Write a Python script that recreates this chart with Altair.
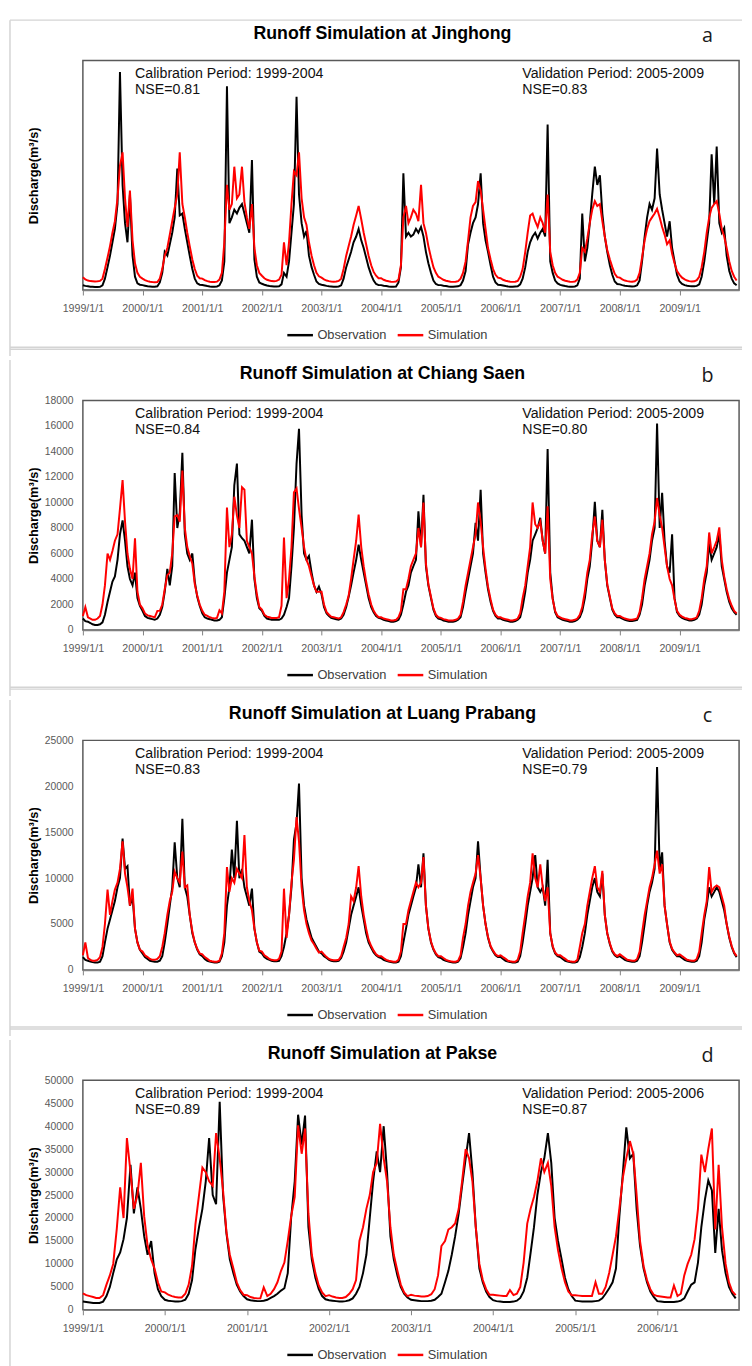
import altair as alt
import pandas as pd

YEARS_ABC = list(range(1999, 2010))
YEARS_D = list(range(1999, 2007))
SERIES = ["Observation", "Simulation"]
COLORS = ["#000000", "#ff0000"]

# semi-monthly readings (1st and 16th of each month), one year per line
OBS_A = [
    250,220,200,180,170,160,160,170,250,600,1200,1800,2500,3200,4500,11400,5500,3500,2500,5000,1800,700,350,280,
    260,230,200,190,180,180,200,400,900,2000,1800,2400,3000,3800,6350,3900,4000,3200,2500,1800,1100,600,350,280,
    270,240,210,190,180,180,190,250,500,1500,10650,3500,3800,4200,4000,4300,4500,4000,3500,3000,6800,1600,700,400,
    330,280,240,210,200,190,190,200,300,900,700,1500,3000,4500,10100,5000,3500,2800,3100,1800,1200,800,450,320,
    280,250,220,200,190,180,180,190,250,600,1200,1600,2000,2500,2800,3200,2600,2200,1700,1200,800,500,320,260,
    260,230,210,190,180,180,190,400,1200,6100,2800,3000,2800,2900,3200,3000,3300,2800,2000,1400,900,500,320,260,
    260,230,210,190,180,180,190,200,260,500,1000,2400,3000,3500,3800,4500,6100,3500,2600,2000,1300,700,400,280,
    270,240,210,190,180,180,190,200,300,600,1200,2000,2500,2800,3000,2700,3000,3200,2800,8650,1500,900,500,350,
    270,240,210,190,180,180,190,250,600,4000,1500,2200,3500,5000,6450,5500,6000,4000,2800,2000,1300,800,450,320,
    300,260,230,210,200,190,200,250,500,1500,2800,3800,4500,4200,4800,7400,5000,4200,3500,2800,3600,2200,1500,800,
    450,320,260,230,210,200,200,220,300,700,1500,2500,3500,7100,4500,7500,3500,3000,3250,1800,1000,600,350,250,
]
SIM_A = [
    670,560,500,470,460,450,460,480,600,1100,1700,2300,3000,3600,4800,6500,7200,4800,3300,5200,2600,1400,900,700,
    600,520,470,440,420,410,420,600,1100,1800,2200,2900,3600,4300,5000,7200,4500,3800,3000,2300,1600,1100,750,620,
    600,520,470,440,420,420,440,550,900,2500,5500,4200,4500,6450,4800,5000,6450,4600,3800,3200,4500,2200,1300,900,
    750,620,540,500,470,460,480,550,800,2500,1300,2500,4500,6200,6000,7200,4800,3800,3400,2500,1800,1300,900,720,
    650,560,500,470,450,440,450,480,600,1100,1800,2300,2800,3400,3900,4400,3700,3000,2400,1800,1300,950,750,620,
    620,540,490,460,440,430,450,550,1300,3800,4400,3500,3800,4200,4000,3600,5500,3500,3000,2300,1700,1200,900,700,
    620,540,490,460,440,430,440,470,600,900,1500,2600,3800,4400,4600,5700,5200,4200,3200,2200,1600,1100,800,650,
    620,540,490,460,440,430,440,480,700,1100,2000,3000,3900,4000,3600,3300,3800,3500,3000,5000,2000,1300,900,700,
    620,540,490,460,440,430,450,550,900,2200,2000,2700,3500,4200,4650,4400,4500,3600,2800,2100,1600,1200,850,680,
    650,560,500,470,450,440,460,550,900,1700,2600,3200,3600,3800,4000,4250,3800,3300,2900,2400,2600,1900,1400,1000,
    800,650,560,500,470,450,460,520,700,1200,2000,3000,3800,4300,4500,4650,4000,3200,2800,2200,1500,1000,700,500,
]
OBS_B = [
    900,700,650,550,450,400,400,450,600,1200,2200,3000,3800,4200,5500,7500,8600,7000,5000,4000,3500,4500,2500,1900,
    1500,1100,950,900,850,800,900,1200,1800,3000,4800,3500,5000,12300,8000,9200,13900,7500,6000,5500,6000,3800,2600,1900,
    1300,1000,900,850,800,750,750,800,1000,2500,4500,5500,6500,11350,13050,7500,7200,7000,6500,6000,8650,4000,2500,1700,
    1500,1100,900,850,800,800,800,800,900,1200,1800,2500,5000,8000,13050,15770,9000,6000,5500,5800,4500,3500,3000,3400,
    2800,1800,1300,1100,950,900,850,800,900,1200,1800,2600,3500,4500,5500,6700,5500,4500,3500,2500,1800,1400,1100,950,
    900,800,750,700,650,650,700,800,1200,2000,3000,3500,4500,5000,5500,9300,6500,10600,5000,3500,2500,1600,1100,900,
    850,750,700,650,650,650,700,800,1000,1800,3000,4000,5000,6000,8400,7000,11000,6000,4500,3200,2200,1500,1100,900,
    900,800,750,700,650,650,700,800,1000,1800,3000,4500,5500,7000,7500,8000,8800,7000,6000,14200,4500,2500,1400,1000,
    900,800,750,700,650,650,700,800,1000,1500,2500,4000,5000,7000,10050,7000,6500,9430,5500,3500,2500,1600,1200,1000,
    1000,900,800,750,700,700,750,800,1200,2000,3500,4500,5500,7000,8000,16200,8000,10750,7000,5000,4500,7500,2500,1400,
    1100,950,850,800,750,750,800,900,1200,2000,3500,4500,6800,5500,6000,6500,7500,5000,4000,3000,2200,1700,1400,1200,
]
SIM_B = [
    1100,1800,1000,900,800,800,900,1100,2000,3500,6000,5500,6200,7000,7500,9500,11750,8500,6000,4800,4000,7200,3000,2000,
    1700,1300,1150,1100,1050,1000,1500,1500,2000,3200,4300,4500,6000,8900,9000,8500,12500,8000,6500,5800,5200,3600,2700,2000,
    1500,1200,1100,1000,950,900,950,1550,1300,3000,9600,6500,7500,10450,9000,8000,11200,11000,7000,6500,6000,4200,2800,1800,
    1600,1200,1050,1000,950,950,950,1000,1900,7250,2500,4000,6500,10800,11100,9500,8000,6500,5500,5000,4200,3500,3000,3000,
    3000,2000,1400,1200,1050,1000,950,900,1000,1400,2000,2700,4000,5500,7000,9050,6500,5000,3800,2800,2000,1500,1200,1000,
    1000,900,850,800,750,750,800,1000,1500,3200,3200,4000,5000,5500,6000,8000,6500,10000,5200,3600,2600,1700,1200,1000,
    950,850,800,750,750,750,800,900,1200,2200,3500,4500,5500,6500,7500,10000,8500,6500,4800,3400,2400,1600,1200,1000,
    1000,900,850,800,750,750,800,900,1300,2500,3500,5000,6500,10000,8300,8000,8500,7000,6000,9700,4000,2400,1500,1100,
    1000,900,850,800,750,750,800,900,1200,1800,3000,4500,5500,7500,8900,7000,6500,8650,5500,3600,2600,1700,1300,1100,
    1100,1000,900,850,800,800,850,900,1400,2500,4000,5000,6000,7500,8500,10350,9000,8000,6500,5000,4000,3500,2400,1500,
    1200,1050,950,900,850,850,900,1000,1500,2500,4000,5000,7650,6000,6500,7000,8050,5500,4200,3200,2400,1900,1500,1300,
]
OBS_C = [
    1400,1100,1000,900,850,800,800,900,1500,3000,4500,5500,6500,7500,9000,10000,14300,11000,11300,7000,8000,4500,3000,2200,
    1800,1400,1200,1000,950,900,900,1000,1500,3000,5000,7000,9000,13900,10000,9000,16450,9000,8000,6000,4000,3000,2200,1700,
    1500,1200,1000,900,850,800,800,900,1500,3000,7000,9000,13100,10000,16250,10000,11000,9000,8000,7000,8850,4500,3000,2000,
    1800,1400,1200,1100,1000,950,950,1000,1500,2500,4000,6000,9000,14200,16000,20300,10000,7000,5500,4500,3500,3000,2500,2000,
    1800,1500,1300,1100,1000,950,950,1000,1300,2000,3000,4500,6000,7000,8000,9000,7000,5500,4000,3000,2400,1900,1600,1400,
    1300,1100,1000,900,850,800,800,900,1500,3000,4500,6000,7000,8000,9000,11500,9000,12700,7000,4500,3000,2200,1700,1400,
    1300,1100,1000,900,850,800,800,900,1300,2500,4000,6000,7500,9000,10000,14000,10000,7000,5000,3500,2500,2000,1600,1400,
    1400,1200,1000,900,850,800,800,900,1500,3000,5000,7000,8500,10000,12500,9000,8500,9000,7000,12000,4000,2500,1800,1500,
    1400,1200,1000,900,850,800,800,900,1400,2500,4000,6000,7500,9000,10000,8500,8000,10500,6000,4000,2800,2000,1600,1400,
    1500,1300,1100,1000,950,900,900,1000,1500,3000,5000,7000,8500,9500,11000,22100,11000,12800,7000,5000,3000,2200,1800,1500,
    1500,1300,1100,1000,950,900,900,1000,1500,3000,5500,7000,9000,8000,8500,9000,8500,7500,6500,5000,3500,2500,1800,1400,
]
SIM_C = [
    1600,3000,1300,1100,1000,1000,1100,1400,2500,5000,8750,6000,7500,8750,9500,11000,14000,10500,9000,7000,8850,4500,3000,2200,
    2000,1600,1400,1200,1100,1100,1200,1500,2500,4000,6000,7500,8500,10700,10000,9500,12900,9000,9200,6000,4200,3000,2300,1800,
    1700,1400,1200,1000,950,900,900,1000,1800,4000,11200,8500,10000,9500,11000,10500,10000,14700,9000,7500,6500,4500,3000,2100,
    2000,1600,1400,1200,1100,1050,1050,1200,2000,8850,3500,6000,9500,12000,16650,14000,9000,6500,5000,4000,3200,2800,2300,1900,
    2000,1700,1400,1200,1100,1050,1050,1100,1500,2500,3500,5000,8000,7500,9000,11300,8000,6000,4500,3300,2600,2100,1700,1500,
    1500,1300,1100,1000,950,900,900,1100,2000,5000,5000,6500,7500,8500,9500,9000,9500,12300,7000,4500,3100,2300,1800,1500,
    1500,1300,1100,1000,950,900,900,1000,1600,3500,5000,7000,8500,9500,10500,12500,10000,7000,5000,3600,2600,2100,1700,1500,
    1600,1400,1200,1000,950,900,900,1100,2000,4000,6000,8000,9500,12700,10000,9000,11500,9000,7500,9000,4000,2600,1900,1600,
    1600,1400,1200,1000,950,900,900,1100,2500,4000,5000,7000,8500,10000,11300,9000,8500,10800,6000,4000,2900,2100,1700,1500,
    1700,1500,1300,1100,1050,1000,1000,1200,2000,4000,6000,7500,9000,10000,11500,13000,10500,11500,7000,5000,3100,2300,1900,1600,
    1700,1500,1300,1100,1050,1000,1000,1200,2000,4000,6000,7500,11200,8500,9000,9200,9000,8000,7000,5000,3600,2600,1900,1500,
]
OBS_D = [
    1800,1700,1600,1500,1500,1500,1800,3000,5000,8000,11000,12500,15400,20000,31600,21000,26700,22000,16000,12000,15000,8000,4500,3000,
    2200,2000,1900,1800,1800,1900,2200,3500,6500,13200,18000,22000,28000,37400,25000,23000,45300,25000,16700,11000,8000,5500,4000,3000,
    2300,2100,2000,1900,1900,2000,2200,2600,3000,3500,4200,4700,8000,20000,28000,42500,36000,42300,18000,11000,7000,4500,3000,2300,
    2100,2000,1900,1800,1800,1900,2100,2500,3500,5000,8000,12000,20000,28000,34500,30000,40000,30000,16000,11000,7500,5000,3500,2700,
    2200,2100,2000,1900,1900,1900,2000,2200,2800,3500,6000,8500,12000,16000,21000,27000,33000,38500,30000,18000,9000,6000,4000,2800,
    2100,1900,1800,1700,1700,1700,1800,2000,2600,4000,7000,12400,18000,25000,30000,33000,38500,32000,20000,15000,11000,7000,4500,3000,
    2000,1900,1800,1800,1800,1800,1900,2000,2500,3500,4700,6000,9000,20300,30000,39750,33000,34000,22000,14000,9000,6000,4000,2800,
    1900,1800,1700,1700,1700,1700,1800,2000,2500,4000,5500,6000,10300,18000,24000,28200,26000,12400,22000,13000,8000,5000,3500,2500,
]
SIM_D = [
    3600,3200,3000,2800,2600,2600,3200,5500,7500,10000,17700,26700,20000,37400,30000,22000,25000,32000,20300,14000,11000,9000,6000,4000,
    3800,3300,3000,2800,2700,2700,3500,5500,9600,18600,25000,31000,30000,28000,27000,38500,33000,26000,17000,12000,9000,6000,4300,3300,
    3200,2800,2600,2500,2500,4900,3000,3500,4500,6000,8500,10300,15000,20300,24600,40200,34000,39500,21000,12000,8000,5300,3800,3000,
    3200,2900,2700,2600,2600,2800,3500,4500,6500,15000,18000,22000,25000,30000,32000,40500,33000,28000,18000,12000,8500,5500,3800,3000,
    3300,3100,3000,2900,2900,3000,3400,4500,7500,13900,15000,17500,18000,18800,22000,28000,35000,33000,28000,18000,10000,6500,4500,3300,
    3300,3200,3100,3000,3000,4300,3200,3500,5000,10300,18800,22000,24600,28000,33000,30000,32000,27000,18000,13000,9000,6000,4000,3200,
    3200,3100,3000,3000,3000,3000,6000,3500,3500,5000,8100,12000,16000,22000,28900,33000,36750,34000,25000,15000,9500,6500,4500,3300,
    3000,2900,2800,2700,2700,5300,3000,3500,7500,10000,12000,15400,22000,33800,30000,35000,39500,17500,31600,18000,10000,6000,4000,3200,
]

W, H = 666, 233
ONE = pd.DataFrame({"k": [0]})
FONT = "Liberation Sans"
FRAME = "#d4d4d4"


def dates_for(years):
    return [f"{y}-{m:02d}-{d:02d}T00:00:00" for y in years for m in range(1, 13) for d in (1, 16)]


def txt(text, x, y, size, weight="normal", font=FONT, align="left", color="#111111"):
    return alt.Chart(ONE).mark_text(
        text=text, align=align, baseline="middle", fontSize=size,
        fontWeight=weight, font=font, color=color
    ).encode(x=alt.value(x), y=alt.value(y))


def hline(y, x1=-74, x2=669):
    return alt.Chart(ONE).mark_rule(color=FRAME, strokeWidth=1.5).encode(
        x=alt.value(x1), x2=alt.value(x2), y=alt.value(y))


def vline(x, y1, y2):
    return alt.Chart(ONE).mark_rule(color=FRAME, strokeWidth=1.5).encode(
        x=alt.value(x), y=alt.value(y1), y2=alt.value(y2))


def panel(title, letter, obs, sim, years, ymax, ystep, show_y, nse_cal, val_period, nse_val, first):
    d = dates_for(years)
    n = min(len(d), len(obs), len(sim))
    df = pd.DataFrame({
        "date": d[:n] + d[:n],
        "q": obs[:n] + sim[:n],
        "series": [SERIES[0]] * n + [SERIES[1]] * n,
    })
    x = alt.X(
        "date:T",
        scale=alt.Scale(domain=[alt.DateTime(year=years[0], month=1, date=1),
                                alt.DateTime(year=years[-1], month=12, date=31)]),
        axis=alt.Axis(
            values=[alt.DateTime(year=y, month=1, date=1) for y in years],
            format="%Y/%-m/%-d", title=None, grid=False, labelFlush=False,
            labelOverlap=False, tickSize=5, tickColor="#808080",
            domainColor="#808080", domainWidth=1.5, labelColor="#595959",
            labelFontSize=10.8, labelFont=FONT, labelPadding=8,
        ),
    )
    yaxis = alt.Axis(
        values=list(range(0, ymax + 1, ystep)), labels=show_y, ticks=False,
        format="d", domain=False, grid=False, labelColor="#595959",
        labelFontSize=10.5, labelFont=FONT, labelPadding=10,
        title="Discharge(m³/s)", titleFont=FONT, titleFontSize=13,
        titleFontWeight="bold", titleColor="#000000", titleX=-50, titleY=H / 2,
        titleAlign="center", titleBaseline="middle",
    )
    lines = alt.Chart(df).mark_line(strokeWidth=2).encode(
        x=x,
        y=alt.Y("q:Q", scale=alt.Scale(domain=[0, ymax], nice=False), axis=yaxis),
        color=alt.Color(
            "series:N",
            scale=alt.Scale(domain=SERIES, range=COLORS),
            legend=alt.Legend(
                orient="none", legendX=206, legendY=264, direction="horizontal",
                title=None, symbolType="stroke", symbolSize=676,
                symbolStrokeWidth=2.5, labelFontSize=13, labelColor="#404040",
                labelFont=FONT, columnPadding=5, padding=0, labelOffset=3,
            ),
        ),
    )
    layers = [vline(-74, -41, 300), hline(291), hline(293)]
    if first:
        layers.append(hline(-41))
    layers += [
        lines,
        txt(title, 304, -27, 18, weight="bold", align="center", color="#000000"),
        txt(letter, 634, -25, 20, font="Open Sans", align="center", color="#1a1a1a"),
        txt("Calibration Period: 1999-2004", 53, 14, 14.4),
        txt(f"NSE={nse_cal}", 53, 30, 14.4),
        txt(f"Validation Period: {val_period}", 446, 14, 14.4),
        txt(f"NSE={nse_val}", 446, 30, 14.4),
    ]
    return alt.layer(*layers).properties(width=W, height=H)


pa = panel("Runoff Simulation at Jinghong", "a", OBS_A, SIM_A, YEARS_ABC, 12000, 2000, False, "0.81", "2005-2009", "0.83", True)
pb = panel("Runoff Simulation at Chiang Saen", "b", OBS_B, SIM_B, YEARS_ABC, 18000, 2000, True, "0.84", "2005-2009", "0.80", False)
pc = panel("Runoff Simulation at Luang Prabang", "c", OBS_C, SIM_C, YEARS_ABC, 25000, 5000, True, "0.83", "2005-2009", "0.79", False)
pd_ = panel("Runoff Simulation at Pakse", "d", OBS_D, SIM_D, YEARS_D, 50000, 5000, True, "0.89", "2005-2006", "0.87", False)

chart = alt.vconcat(pa, pb, pc, pd_, spacing=0).resolve_scale(
    x="independent", y="independent", color="independent"
).properties(
    padding={"left": 0, "top": 0, "right": 0, "bottom": 0},
    background="white",
).configure_view(stroke="#595959", strokeWidth=1.5)

chart.save("out.html", embed_options={"renderer": "svg", "actions": False})
